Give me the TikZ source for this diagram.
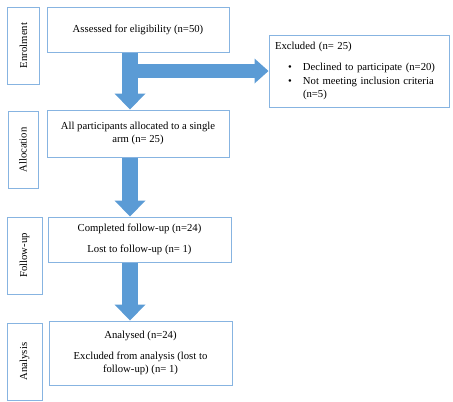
\documentclass[tikz,border=0pt]{standalone}
\usepackage{fontspec}
\setmainfont{Liberation Serif}
\definecolor{BoxBorder}{RGB}{135,180,225}
\definecolor{ArrowBlue}{RGB}{91,155,213}
\usetikzlibrary{arrows.meta, positioning, calc}
\tikzset{
    base/.style={
        draw=BoxBorder,
        line width=1pt,
        fill=white,
        align=center,
        font=\fontsize{10.7}{13.5}\selectfont,
        inner sep=3pt
    },
    stage/.style={base, rotate=90, minimum width=77pt, minimum height=32pt},
    flowbox/.style={base, minimum width=182pt, minimum height=45pt},
    fat/.style={-{Triangle[width=31pt, length=16pt, line width=0pt]}, line width=16pt, draw=ArrowBlue},
    fatside/.style={-{Triangle[width=25pt, length=14pt, line width=0pt]}, line width=13.5pt, draw=ArrowBlue}
}

\begin{document}
\begin{tikzpicture}[x=1pt, y=-1pt]
    \useasboundingbox (0,0) rectangle (453,402);

    % Stage labels
    \node[stage] (enrol) at (23.5,45.5) {Enrolment};
    \node[stage, minimum height=30pt] (allocation) at (23,150) {Allocation};
    \node[stage, minimum height=35pt] (followup) at (24.5,255.5) {Follow-up};
    \node[stage, minimum height=35pt] (analysis) at (24.5,361.5) {Analysis};

    % Nodes
    \node[flowbox] (assessed) at (138,29.5) {Assessed for eligibility (n=50)};
    \node[flowbox, minimum height=47pt] (alloc) at (138,133.5) {All participants allocated to a single\\ arm (n= 25)};
    \node[flowbox, minimum width=183pt] (completed) at (139.5,239.5) {Completed follow-up (n=24)\\[8pt] Lost to follow-up (n= 1)};
    \node[flowbox, minimum width=183pt, minimum height=64pt] (analysed) at (140.5,353) {Analysed (n=24)\\[7pt] Excluded from analysis (lost to\\ follow-up) (n= 1)};
    \node[base, align=left, text width=168pt, inner xsep=6pt, minimum height=72pt] (excluded) at (359,71)
        {Excluded (n= 25)\\[8pt]
         \hspace*{13pt}\makebox[15pt][l]{\textbullet}Declined to participate (n=20)\\
         \hspace*{13pt}\makebox[15pt][l]{\textbullet}Not meeting inclusion criteria\\
         \hspace*{28pt}(n=5)};

    % Arrows
    \coordinate (spine) at (130,0);
    \draw[fat] (assessed.south -| spine) -- (alloc.north -| spine);
    \draw[fatside] (spine |- excluded.west) -- (excluded.west);
    \draw[fat] (alloc.south -| spine) -- (completed.north -| spine);
    \draw[fat] (completed.south -| spine) -- (analysed.north -| spine);
\end{tikzpicture}
\end{document}
